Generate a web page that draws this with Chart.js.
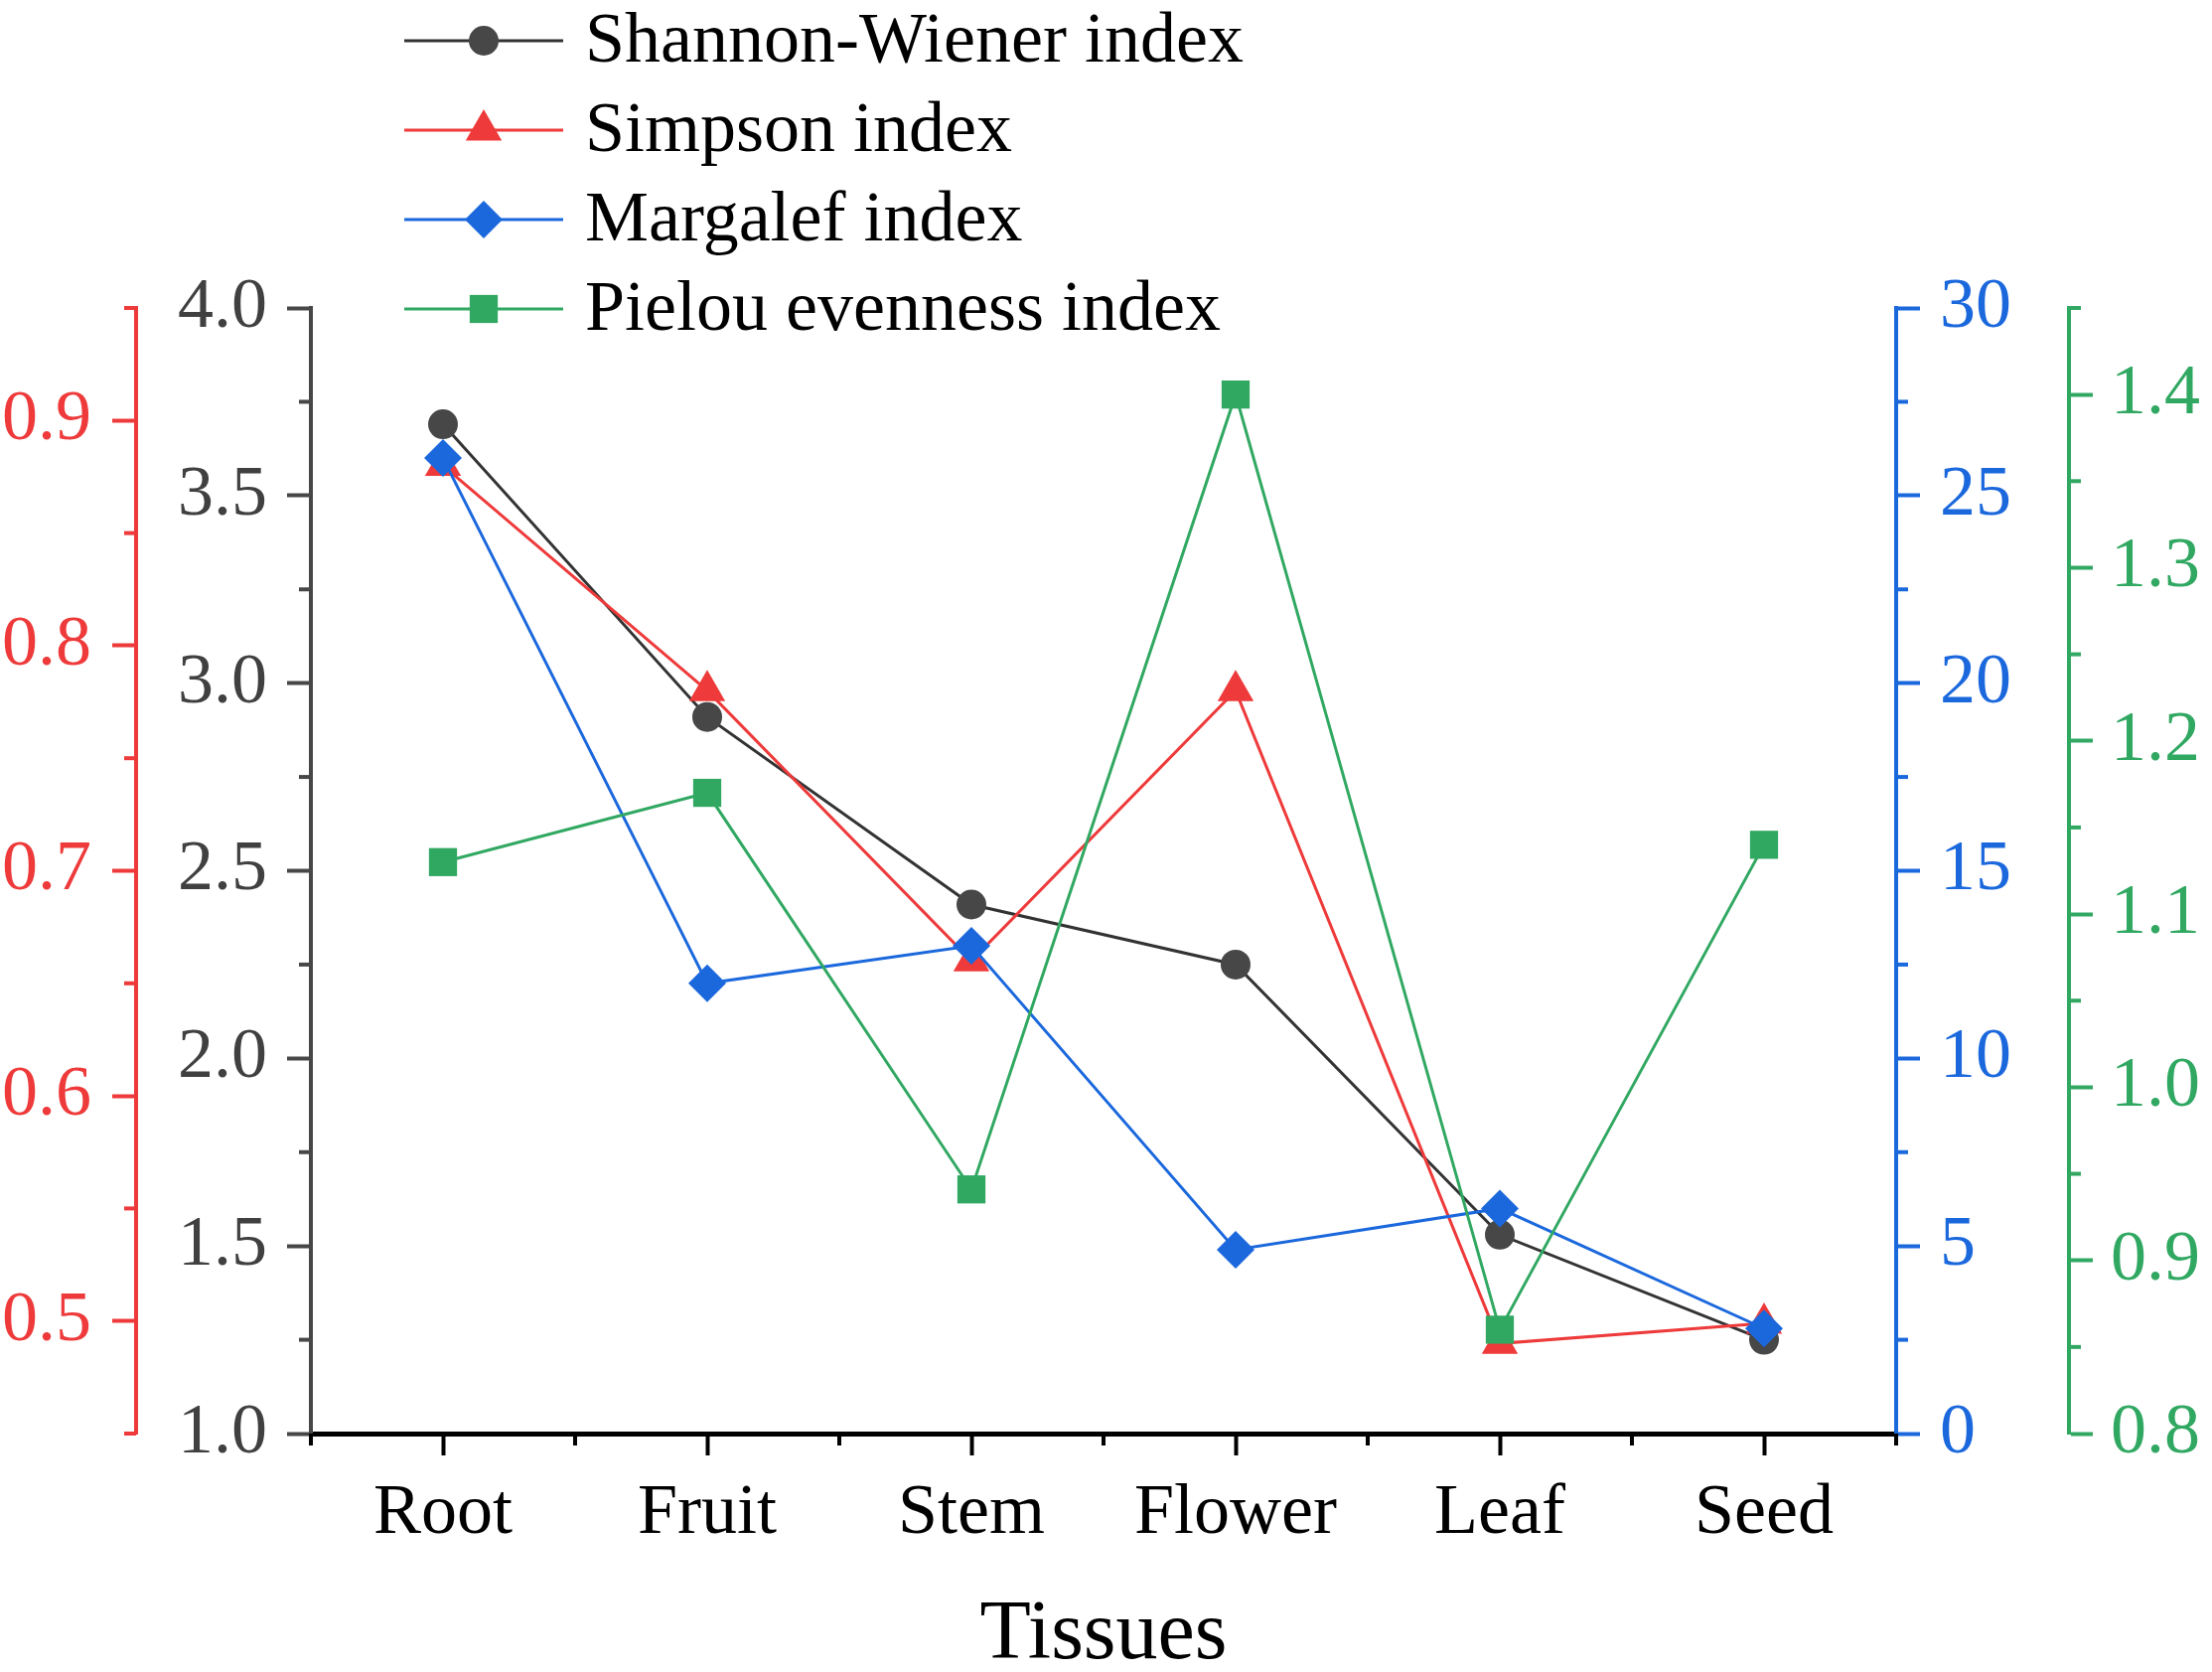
<!DOCTYPE html>
<html lang="en">
<head>
<meta charset="UTF-8">
<title>Diversity indices by tissue</title>
<style>
  html, body { margin: 0; padding: 0; background: #fff; }
  #chart { display: block; }
</style>
</head>
<body>
<canvas id="chart" width="2227" height="1683" style="width:2227px;height:1683px"></canvas>
<script src="https://cdn.jsdelivr.net/npm/chart.js"></script>
<script>
  // values
  const tissues = ['Root', 'Fruit', 'Stem', 'Flower', 'Leaf', 'Seed'];
  const shannon = [3.69, 2.91, 2.41, 2.25, 1.53, 1.25];
  const simpson = [0.880, 0.780, 0.660, 0.780, 0.490, 0.499];
  const margalef = [26.0, 12.0, 13.0, 4.9, 6.0, 2.8];
  const pielou = [1.13, 1.17, 0.941, 1.40, 0.86, 1.14];

  // labelled ticks of each axis
  const shannonTicks = [1.0, 1.5, 2.0, 2.5, 3.0, 3.5, 4.0];
  const simpsonTicks = [0.5, 0.6, 0.7, 0.8, 0.9];
  const margalefTicks = [0, 5, 10, 15, 20, 25, 30];
  const pielouTicks = [0.8, 0.9, 1.0, 1.1, 1.2, 1.3, 1.4];

  const FONT = '"Liberation Serif", "Times New Roman", serif';
  const GRAY = '#474747';
  const RED = '#ee3a3a';
  const BLUE = '#1b68dd';
  const GREEN = '#31a862';

  const tickFont = { family: FONT, size: 72 };

  // minor tick spacing per axis
  const minorStep = { y: 0.25, yRed: 0.05, yBlue: 2.5, yGreen: 0.05 };
  const majorsOf = { y: shannonTicks, yRed: simpsonTicks, yBlue: margalefTicks, yGreen: pielouTicks };

  function yAxis(pos, color, min, max, majors, digits, width, weight, pad) {
    return {
      type: 'linear',
      position: pos,
      min: min,
      max: max,
      weight: weight,
      afterBuildTicks: s => { s.ticks = majors.map(v => ({ value: v })); },
      afterFit: s => { s.width = width; },
      border: { display: true, color: color, width: 4 },
      grid: { drawOnChartArea: false, drawTicks: true, tickLength: 24, tickWidth: 4, tickColor: color },
      ticks: {
        color: color === GRAY ? '#404040' : color,
        font: tickFont,
        padding: pad,
        callback: v => v.toFixed(digits)
      }
    };
  }

  /* short ticks between the labelled ones */
  const minorTicks = {
    id: 'minorTicks',
    afterDraw(chart) {
      const ctx = chart.ctx;
      ctx.save();
      ctx.lineWidth = 4;
      Object.keys(minorStep).forEach(id => {
        const s = chart.scales[id];
        const step = minorStep[id];
        const n = Math.round((s.max - s.min) / step);
        ctx.strokeStyle = s.options.border.color;
        for (let i = 0; i <= n; i++) {
          const v = s.min + i * step;
          if (majorsOf[id].some(m => Math.abs(m - v) < step / 10)) continue;
          const y = s.getPixelForValue(v);
          const x0 = s.position === 'left' ? s.right : s.left;
          const dx = s.position === 'left' ? -12 : 12;
          ctx.beginPath();
          ctx.moveTo(x0, y);
          ctx.lineTo(x0 + dx, y);
          ctx.stroke();
        }
      });
      const xs = chart.scales.x;
      const n = tissues.length;
      ctx.strokeStyle = '#000';
      for (let i = 0; i <= n; i++) {
        const x = xs.left + i * (xs.width / n);
        ctx.beginPath();
        ctx.moveTo(x, xs.top);
        ctx.lineTo(x, xs.top + 12);
        ctx.stroke();
      }
      ctx.restore();
    }
  };

  /* legend with line - marker - line symbols */
  const lineLegend = {
    id: 'lineLegend',
    afterDraw(chart) {
      const ctx = chart.ctx;
      chart.data.datasets.forEach((ds, i) => {
        const y = 41 + i * 90;
        ctx.save();
        ctx.strokeStyle = ds.borderColor;
        ctx.lineWidth = 3;
        ctx.beginPath();
        ctx.moveTo(407, y);
        ctx.lineTo(567, y);
        ctx.stroke();
        ctx.fillStyle = ds.pointBackgroundColor;
        Chart.helpers.drawPoint(ctx, { pointStyle: ds.pointStyle, radius: ds.pointRadius, rotation: 0, borderWidth: 0 }, 487, y);
        ctx.fillStyle = '#000';
        ctx.font = '72px ' + FONT;
        ctx.textBaseline = 'middle';
        ctx.textAlign = 'left';
        ctx.fillText(ds.label, 589, y + 2);
        ctx.restore();
      });
    }
  };

  const ctx = document.getElementById('chart');
  new Chart(ctx, {
    type: 'line',
    data: {
      labels: tissues,
      datasets: [
        {
          label: 'Shannon-Wiener index', data: shannon, yAxisID: 'y', order: 4,
          borderColor: '#333333', pointBackgroundColor: GRAY, pointBorderColor: GRAY,
          pointStyle: 'circle', pointRadius: 15
        },
        {
          label: 'Simpson index', data: simpson, yAxisID: 'yRed', order: 3,
          borderColor: RED, pointBackgroundColor: RED, pointBorderColor: RED,
          pointStyle: 'triangle', pointRadius: 21
        },
        {
          label: 'Margalef index', data: margalef, yAxisID: 'yBlue', order: 2,
          borderColor: BLUE, pointBackgroundColor: BLUE, pointBorderColor: BLUE,
          pointStyle: 'rectRot', pointRadius: 19
        },
        {
          label: 'Pielou evenness index', data: pielou, yAxisID: 'yGreen', order: 1,
          borderColor: GREEN, pointBackgroundColor: GREEN, pointBorderColor: GREEN,
          pointStyle: 'rect', pointRadius: 20
        }
      ]
    },
    options: {
      responsive: false,
      animation: false,
      devicePixelRatio: 1,
      layout: { padding: { top: 310, left: 0, right: 0, bottom: 0 } },
      elements: {
        line: { borderWidth: 3, tension: 0, fill: false },
        point: { borderWidth: 0, hoverRadius: 15 }
      },
      scales: {
        x: {
          type: 'category',
          position: 'bottom',
          offset: true,
          afterFit: s => { s.height = 240; },
          border: { display: true, color: '#000', width: 5 },
          grid: { offset: false, drawOnChartArea: false, drawTicks: true, tickLength: 22, tickWidth: 4, tickColor: '#000' },
          ticks: { color: '#000', font: tickFont, padding: 16, maxRotation: 0, autoSkip: false },
          title: { display: true, text: 'Tissues', color: '#000', font: { family: FONT, size: 84, lineHeight: 0.85 }, padding: 0 }
        },
        y: yAxis('left', GRAY, 1.0, 4.0, shannonTicks, 1, 176, 0, 20),
        yRed: yAxis('left', RED, 0.45, 0.95, simpsonTicks, 1, 137, 1, 21),
        yBlue: yAxis('right', BLUE, 0, 30, margalefTicks, 0, 174, 0, 20),
        yGreen: yAxis('right', GREEN, 0.8, 1.45, pielouTicks, 1, 144, 1, 18)
      },
      plugins: {
        legend: { display: false },
        tooltip: { enabled: false }
      }
    },
    plugins: [minorTicks, lineLegend]
  });
</script>
</body>
</html>
